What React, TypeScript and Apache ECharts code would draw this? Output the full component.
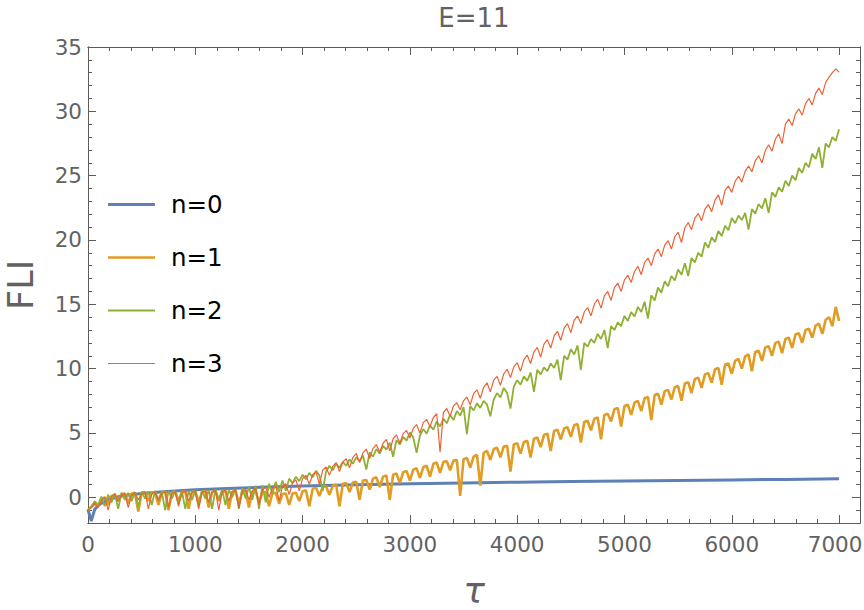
import React, { useEffect, useRef } from "react";
import * as echarts from "echarts";

// sampling step of the oscillating curves (tau units)
const TAU_STEP = 31.25;

// n=3 (red)
const n3Vals = [
  -1.0, -0.8, -0.45, -0.8, -0.25, 0.0, -1.0, 0.05, 0.25, -0.3, 0.15, 0.3,
  -0.8, 0.2, 0.35, -0.2, 0.25, 0.4, -0.9, 0.25, 0.4, -0.3, 0.3, 0.45,
  -0.8, 0.3, 0.45, -0.7, 0.3, 0.5, -0.3, 0.35, 0.5, -0.9, 0.35, 0.5,
  -0.4, 0.4, 0.55, -1.0, 0.4, 0.55, -0.3, 0.45, 0.6, -0.8, 0.45, 0.6,
  -0.2, 0.5, 0.7, -0.6, 0.6, 0.8, 0.0, 0.7, 0.9, -0.3, 0.85, 1.05,
  0.2, 1.1, 1.35, 0.5, 1.45, 1.7, 1.0, 1.75, 2.0, 1.0, 2.1, 2.35,
  1.7, 2.4, 2.7, 2.0, 2.75, 3.0, 2.3, 3.1, 3.4, 2.7, 3.45, 3.75,
  3.0, 3.8, 4.1, 3.5, 4.2, 4.5, 3.6, 4.55, 4.85, 4.2, 4.95, 5.2,
  4.6, 5.35, 5.65, 5.0, 5.8, 6.05, 5.5, 6.2, 6.5, 3.5, 6.6, 6.9,
  6.3, 7.1, 7.35, 6.8, 7.5, 7.8, 7.2, 8.05, 8.35, 7.7, 8.55, 8.9,
  8.2, 9.1, 9.4, 8.7, 9.6, 9.95, 9.3, 10.15, 10.45, 9.8, 10.7, 11.05,
  10.4, 11.3, 11.65, 10.9, 11.9, 12.25, 11.6, 12.55, 12.9, 12.2, 13.15, 13.5,
  12.8, 13.75, 14.1, 13.5, 14.4, 14.75, 14.1, 15.0, 15.4, 14.7, 15.65, 16.0,
  15.3, 16.3, 16.65, 16.0, 16.9, 17.25, 16.7, 17.55, 17.95, 17.3, 18.25, 18.6,
  18.0, 18.9, 19.3, 18.7, 19.6, 19.95, 19.3, 20.25, 20.6, 19.8, 20.95, 21.35,
  20.8, 21.7, 22.05, 21.5, 22.4, 22.75, 22.2, 23.1, 23.5, 22.7, 23.85, 24.2,
  23.7, 24.55, 24.95, 24.5, 25.35, 25.75, 25.3, 26.15, 26.55, 26.0, 26.95, 27.4,
  26.9, 27.85, 28.25, 27.5, 29.0, 29.4, 28.9, 29.8, 30.2, 29.7, 30.6, 31.0,
  30.5, 31.4, 31.8, 31.3, 32.25, 32.65, 33.0, 33.3, 33.05,
];

// n=2 (green)
const n2Vals = [
  -1.0, -0.7, -0.3, -0.6, 0.05, -0.7, 0.2, -0.4, 0.3, -0.9, 0.35, -0.2,
  0.35, -0.3, 0.4, -0.8, 0.45, -0.1, 0.45, -0.6, 0.5, -0.2, 0.45, -1.0,
  0.5, -0.1, 0.45, -0.5, 0.5, -0.9, 0.5, -0.2, 0.5, -0.7, 0.55, -0.1,
  0.55, -0.9, 0.6, -0.2, 0.6, -0.6, 0.6, 0.0, 0.65, -0.9, 0.7, -0.1,
  0.8, -0.2, 0.9, -0.9, 0.95, -0.4, 1.05, 0.3, 1.2, 0.4, 1.3, 0.5,
  1.45, 1.1, 1.6, 1.25, 1.75, 1.4, 1.9, 1.55, 2.05, 1.7, 0.5, 2.0,
  2.45, 2.1, 2.6, 2.3, 2.75, 2.45, 2.95, 2.6, 3.1, 2.8, 3.25, 2.15,
  3.5, 3.15, 3.75, 3.4, 4.0, 3.7, 4.25, 3.15, 4.45, 4.1, 4.7, 4.4,
  5.05, 4.65, 3.45, 4.8, 5.3, 4.95, 5.6, 5.25, 5.9, 5.5, 6.1, 5.75,
  6.4, 6.0, 6.7, 6.35, 7.0, 4.9, 7.1, 6.75, 7.3, 6.95, 7.5, 7.2,
  6.3, 7.6, 8.1, 7.75, 8.5, 8.1, 6.9, 8.6, 9.1, 8.75, 9.4, 9.05,
  9.7, 8.2, 9.9, 9.55, 10.1, 9.8, 10.4, 10.05, 10.7, 9.1, 11.0, 10.7,
  11.5, 11.1, 11.8, 9.9, 12.0, 11.7, 12.3, 12.0, 12.7, 12.3, 13.0, 11.6,
  13.3, 13.0, 13.6, 13.3, 14.1, 13.7, 14.4, 14.05, 14.8, 14.4, 15.2, 13.9,
  15.7, 15.3, 16.3, 15.9, 16.8, 16.4, 17.2, 16.85, 17.7, 17.3, 18.2, 17.2,
  18.6, 18.25, 19.0, 18.7, 19.8, 19.4, 20.2, 19.85, 20.7, 20.3, 21.1, 20.75,
  21.7, 21.3, 21.9, 21.55, 22.1, 20.8, 22.4, 22.05, 22.8, 22.45, 23.25, 22.1,
  23.7, 23.35, 24.1, 23.75, 24.6, 24.2, 25.0, 24.65, 25.6, 25.2, 26.0, 25.65,
  26.7, 26.3, 27.2, 25.6, 27.5, 27.2, 28.0, 27.7, 28.6,
];

// n=1 (orange)
const n1Vals = [
  -1.0, -0.75, -0.5, -0.7, -0.15, 0.0, -0.6, 0.1, 0.2, -0.3, 0.25, 0.3,
  -0.5, 0.3, 0.35, -1.1, 0.35, 0.4, -0.3, 0.35, 0.4, -0.6, 0.35, 0.45,
  -1.0, 0.35, 0.45, -0.3, 0.4, 0.45, -0.9, 0.4, 0.45, -0.4, 0.4, 0.5,
  -0.8, 0.4, 0.5, -0.3, 0.4, 0.5, -0.9, 0.4, 0.5, -0.5, 0.4, 0.5,
  -0.8, 0.4, 0.45, -0.4, 0.35, 0.4, -0.7, 0.3, 0.35, -0.5, 0.25, 0.3,
  -0.6, 0.3, 0.35, -0.3, 0.45, 0.55, -0.7, 0.65, 0.75, 0.1, 0.8, 0.85,
  0.2, 0.9, 1.0, -0.7, 1.05, 1.1, 0.4, 1.15, 1.2, -0.2, 1.3, 1.35,
  0.6, 1.45, 1.55, 0.8, 1.6, 1.7, -0.2, 1.75, 1.85, 1.1, 1.95, 2.05,
  1.3, 2.15, 2.25, 1.5, 2.35, 2.45, 1.6, 2.6, 2.7, 1.9, 2.75, 2.8,
  2.1, 2.85, 2.9, 0.1, 2.95, 3.05, 2.3, 3.15, 3.3, 0.9, 3.45, 3.6,
  2.9, 3.75, 3.85, 3.1, 3.95, 4.0, 2.0, 4.1, 4.2, 3.4, 4.3, 4.4,
  3.1, 4.55, 4.65, 3.9, 4.85, 4.95, 3.6, 5.15, 5.25, 4.5, 5.35, 5.45,
  4.7, 5.6, 5.7, 4.25, 5.85, 5.95, 5.2, 6.1, 6.2, 4.5, 6.4, 6.5,
  5.9, 6.85, 6.95, 5.5, 7.1, 7.2, 6.4, 7.35, 7.5, 6.7, 7.7, 7.8,
  6.0, 7.95, 8.05, 7.2, 8.25, 8.35, 7.6, 8.55, 8.65, 7.5, 8.85, 8.95,
  8.1, 9.2, 9.3, 8.5, 9.55, 9.65, 8.9, 9.95, 10.05, 8.75, 10.3, 10.4,
  9.6, 10.6, 10.75, 10.0, 10.95, 11.1, 9.8, 11.3, 11.4, 10.6, 11.65, 11.75,
  11.0, 12.0, 12.1, 11.2, 12.3, 12.4, 11.6, 12.65, 12.75, 12.0, 13.0, 13.1,
  12.4, 13.35, 13.5, 12.7, 13.8, 14.0, 13.3, 14.8, 13.7,
];

// n=0 (blue) – smooth curve
const n0Tau = [0, 30, 62, 100, 150, 200, 300, 400, 500, 700, 1000, 1300, 1600, 2000, 2500, 3000, 3500, 4000, 4500, 5000, 5500, 6000, 6500, 7000];
const n0Vals = [-0.95, -1.85, -0.95, -0.6, -0.35, -0.15, 0.08, 0.2, 0.3, 0.43, 0.58, 0.68, 0.77, 0.88, 0.98, 1.05, 1.11, 1.17, 1.22, 1.27, 1.31, 1.35, 1.39, 1.43];

const seriesNames = ["n=0", "n=1", "n=2", "n=3"];
const seriesColors = ["#5E81B5", "#E19C24", "#8FB032", "#EB6235"];

const xMajor = [0, 1000, 2000, 3000, 4000, 5000, 6000, 7000];
const xMinor = [200, 400, 600, 800, 1200, 1400, 1600, 1800, 2200, 2400, 2600, 2800, 3200, 3400, 3600, 3800, 4200, 4400, 4600, 4800, 5200, 5400, 5600, 5800, 6200, 6400, 6600, 6800];
const yMajor = [0, 5, 10, 15, 20, 25, 30, 35];
const yMinor = [-1, 1, 2, 3, 4, 6, 7, 8, 9, 11, 12, 13, 14, 16, 17, 18, 19, 21, 22, 23, 24, 26, 27, 28, 29, 31, 32, 33, 34];

const X_MIN = 0;
const X_MAX = 7195;
const Y_MIN = -2;
const Y_MAX = 35;

const FONT = "'DejaVu Sans', sans-serif";
const AXIS_COLOR = "#5c5c5c";
const TEXT_COLOR = "#626262";
const LABEL_SIZE = 21.5;

function gridAxis(dim: "x" | "y", position: string, ticks: number[], len: number, labels: boolean, extra: any = {}) {
  const lastX = xMajor[xMajor.length - 1];
  return {
    type: "value",
    position,
    min: dim === "x" ? X_MIN : Y_MIN,
    max: dim === "x" ? X_MAX : Y_MAX,
    axisLine: { show: true, onZero: false, lineStyle: { color: AXIS_COLOR, width: 1 } },
    axisTick: { show: true, inside: true, length: len, customValues: ticks, lineStyle: { color: AXIS_COLOR, width: 1 } },
    axisLabel: labels
      ? {
          show: true,
          customValues: ticks,
          fontSize: LABEL_SIZE,
          fontFamily: FONT,
          color: TEXT_COLOR,
          margin: dim === "x" ? 10.5 : 6,
          formatter: (v: number) => (dim === "x" && v === lastX ? `{last|${v}}` : String(v)),
          rich: {
            last: { fontSize: LABEL_SIZE, fontFamily: FONT, color: TEXT_COLOR, padding: [0, 8, 0, 0] },
          },
        }
      : { show: false, customValues: ticks },
    splitLine: { show: false },
    minorTick: { show: false },
    silent: true,
    ...extra,
  };
}

export default function App() {
  const ref = useRef<HTMLDivElement>(null);

  useEffect(() => {
    if (!ref.current) return;
    const chart = echarts.init(ref.current, null, { renderer: "svg" });

    const tauGrid = n3Vals.map((_, i) => i * TAU_STEP);
    const pair = (xs: number[], ys: number[]) => ys.map((y, i) => [xs[i], y]);
    const dataSets = [pair(n0Tau, n0Vals), pair(tauGrid, n1Vals), pair(tauGrid, n2Vals), pair(tauGrid, n3Vals)];
    const widths = [3, 2.6, 1.8, 1.2];
    const iconH = [2.8, 2.6, 2.2, 1.2];

    chart.setOption({
      animation: false,
      backgroundColor: "#ffffff",
      title: {
        text: "E=11",
        left: 474,
        top: 4.5,
        textAlign: "center",
        padding: 0,
        textStyle: { fontSize: 26, fontWeight: "normal", color: TEXT_COLOR, fontFamily: FONT },
      },
      grid: { left: 88, top: 47, width: 772, height: 476, containLabel: false, outerBoundsMode: "none" },
      legend: {
        orient: "vertical",
        left: 108,
        top: 192,
        padding: 0,
        itemWidth: 47,
        itemHeight: 24,
        itemGap: 28,
        selectedMode: false,
        itemStyle: { borderWidth: 0 },
        textStyle: { fontSize: 24.5, color: "#000000", fontFamily: FONT, padding: [0, 0, 0, 11] },
        data: seriesNames.map((name, i) => ({
          name,
          icon: `path://M0,0H47V${iconH[i]}H0Z`,
          itemStyle: { color: seriesColors[i], borderWidth: 0 },
        })),
      },
      xAxis: [
        gridAxis("x", "bottom", xMajor, 8, true, {
          name: "τ",
          nameLocation: "middle",
          nameGap: 49,
          nameTextStyle: { fontSize: 36, fontStyle: "italic", color: TEXT_COLOR, fontFamily: FONT },
        }),
        gridAxis("x", "top", xMajor, 8, false),
        gridAxis("x", "bottom", xMinor, 4, false),
        gridAxis("x", "top", xMinor, 4, false),
      ],
      yAxis: [
        gridAxis("y", "left", yMajor, 8, true, {
          name: "FLI",
          nameLocation: "middle",
          nameGap: 50,
          nameTextStyle: { fontSize: 35, color: TEXT_COLOR, fontFamily: FONT },
        }),
        gridAxis("y", "right", yMajor, 8, false),
        gridAxis("y", "left", yMinor, 4, false),
        gridAxis("y", "right", yMinor, 4, false),
      ],
      series: seriesNames.map((name, i) => ({
        name,
        type: "line",
        xAxisIndex: 0,
        yAxisIndex: 0,
        data: dataSets[i],
        symbol: "none",
        showSymbol: false,
        smooth: false,
        silent: true,
        z: 2 + i,
        lineStyle: { width: widths[i], color: seriesColors[i] },
        itemStyle: { color: seriesColors[i] },
        emphasis: { disabled: true },
      })),
    });

    return () => chart.dispose();
  }, []);

  return <div ref={ref} style={{ position: "absolute", left: 0, top: 0, width: 864, height: 610 }} />;
}
